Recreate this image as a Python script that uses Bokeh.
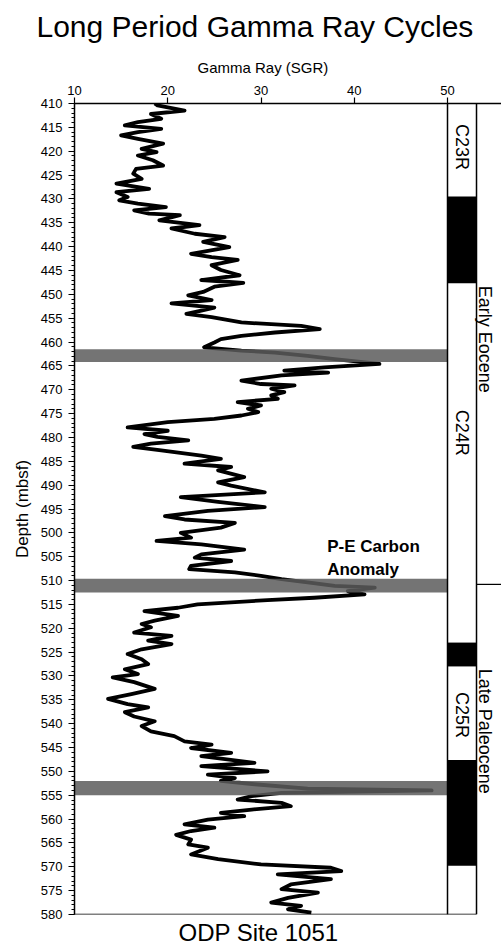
import math
from bokeh.plotting import figure
from bokeh.models import Range1d, FixedTicker, SingleIntervalTicker, Label, Title
from bokeh.core.properties import value
from bokeh.embed import file_html
from bokeh.resources import INLINE

# ---- data ----
depth = [410.0, 410.4, 411.5, 412.2, 413.2, 413.9, 414.6, 415.3, 416.0, 416.7, 417.4, 418.4,
         419.5, 420.2, 420.9, 421.9, 423.0, 423.7, 424.7, 425.8, 426.8, 427.9, 428.6, 429.6,
         430.3, 431.0, 431.7, 432.4, 433.1, 433.4, 434.5, 435.5, 436.2, 437.3, 438.0, 439.0,
         440.1, 441.5, 442.2, 442.8, 443.9, 444.9, 446.0, 447.0, 447.6, 448.4, 449.5, 450.2,
         451.2, 451.9, 452.8, 453.4, 454.1, 454.8, 455.9, 456.6, 457.3, 458.0, 458.7, 459.4,
         460.1, 461.1, 461.8, 462.2, 462.9, 463.6, 464.6, 465.3, 466.0, 466.4, 467.0, 468.1,
         468.8, 469.1, 469.8, 470.5, 471.2, 471.9, 472.6, 473.3, 474.0, 474.7, 475.4, 476.1,
         476.8, 477.9, 478.6, 479.3, 479.9, 480.6, 481.3, 482.0, 482.7, 483.8, 484.5, 485.5,
         486.2, 486.9, 488.3, 489.4, 490.1, 491.5, 492.5, 493.5, 494.6, 495.4, 496.5, 497.2,
         497.9, 498.9, 500.0, 501.0, 501.7, 502.4, 503.5, 504.5, 505.2, 505.9, 506.9, 507.6,
         508.3, 509.0, 509.7, 510.4, 511.1, 511.5, 512.2, 512.9, 513.6, 514.1, 515.0, 515.7,
         516.4, 517.4, 518.4, 519.1, 519.8, 520.9, 521.6, 522.6, 523.3, 524.4, 525.4, 526.5,
         527.5, 528.6, 529.6, 530.3, 531.3, 532.7, 533.8, 534.8, 535.9, 536.6, 537.6, 538.5,
         539.5, 540.5, 541.6, 542.6, 543.7, 544.4, 545.1, 546.1, 546.8, 548.2, 548.9, 550.0,
         550.7, 551.4, 552.0, 552.7, 553.6, 554.0, 554.5, 555.2, 555.9, 556.6, 557.3, 558.0,
         558.7, 559.4, 560.1, 561.1, 561.8, 562.5, 563.3, 564.3, 565.3, 566.0, 567.4, 568.4,
         569.5, 570.2, 570.9, 571.6, 572.6, 573.7, 574.7, 575.4, 576.5, 577.5, 578.2, 578.9,
         579.6]
gamma = [18.6, 18.9, 21.8, 18.2, 19.3, 16.8, 15.4, 19.3, 16.8, 15.0, 16.8, 19.5,
         17.2, 18.8, 16.8, 18.4, 19.5, 16.6, 16.3, 17.2, 14.5, 18.0, 14.5, 15.7,
         14.8, 16.8, 19.8, 16.4, 18.0, 21.3, 19.1, 23.4, 20.4, 22.9, 26.1, 23.8,
         26.6, 22.5, 24.7, 27.5, 24.7, 25.7, 27.7, 23.6, 28.1, 25.0, 23.8, 22.2,
         24.7, 20.4, 25.0, 23.6, 22.0, 24.7, 27.9, 34.3, 36.3, 31.5, 27.9, 25.7,
         25.0, 23.9, 27.9, 31.5, 35.0, 37.9, 42.7, 36.8, 32.5, 37.2, 32.2, 27.9,
         30.0, 33.6, 31.1, 32.5, 31.1, 31.8, 27.5, 30.0, 28.6, 29.7, 27.9, 25.0,
         20.0, 15.7, 20.0, 17.5, 18.9, 22.2, 18.2, 16.3, 19.3, 23.6, 25.7, 21.8,
         26.8, 25.4, 28.2, 25.4, 26.8, 30.4, 21.4, 25.4, 30.4, 24.3, 19.7, 21.8,
         27.2, 25.7, 21.4, 22.5, 18.8, 23.6, 28.2, 23.6, 22.9, 26.8, 22.5, 22.3,
         27.2, 30.0, 32.2, 35.0, 37.9, 42.2, 39.3, 41.1, 35.7, 30.7, 23.2, 21.1,
         17.5, 21.1, 18.6, 17.2, 18.2, 16.4, 20.4, 17.9, 20.4, 17.2, 15.7, 17.2,
         17.9, 15.4, 16.8, 14.1, 16.4, 18.6, 16.1, 13.6, 15.7, 17.9, 15.4, 16.4,
         18.6, 17.2, 18.2, 20.7, 21.8, 24.7, 22.5, 26.8, 23.6, 29.3, 23.6, 30.7,
         24.3, 27.2, 25.7, 29.3, 35.0, 48.3, 32.2, 29.0, 27.5, 32.2, 33.2, 29.0,
         25.7, 28.2, 24.3, 21.8, 25.0, 22.5, 20.9, 22.5, 22.2, 24.3, 22.5, 25.4,
         30.0, 37.5, 38.6, 31.8, 37.5, 33.2, 32.2, 36.1, 32.9, 31.1, 34.3, 32.9,
         35.4]

x_ticks = [10, 20, 30, 40, 50]
band_top = [461.5, 509.6, 552.0]
band_bottom = [464.2, 512.5, 555.0]

chron_black_top = [429.5, 523.0, 547.6]
chron_black_bottom = [447.7, 528.0, 569.8]
chron_names = ["C23R", "C24R", "C25R"]
chron_label_depth = [419.1, 479.0, 538.2]
epoch_names = ["Early Eocene", "Late Paleocene"]
epoch_label_depth = [459.4, 541.6]
epoch_boundary = 510.8

# column geometry (x in gamma-ray units)
COL_L, COL_R, X_RIGHT = 50.0, 53.11, 55.79
EPOCH_X = 54.07
Y_TOP, Y_BOT = 410, 580

FONT = "Liberation Sans"

p = figure(width=501, height=948, x_range=Range1d(10, X_RIGHT), y_range=Range1d(Y_BOT, Y_TOP),
           output_backend="svg", toolbar_location=None, x_axis_location="above",
           min_border_left=74, min_border_right=0, min_border_top=103, min_border_bottom=32)
p.outline_line_color = None
p.grid.visible = False
p.background_fill_color = "white"
p.border_fill_color = "white"

xa = p.xaxis[0]
xa.ticker = FixedTicker(ticks=x_ticks)
xa.major_tick_out = 6
xa.major_tick_in = 0
xa.minor_tick_out = 0
xa.minor_tick_in = 0
xa.major_label_text_font = FONT
xa.major_label_text_font_size = "13px"
xa.major_label_text_color = "black"
xa.major_label_standoff = 3
xa.axis_line_color = "black"
xa.axis_line_width = 1.5
xa.major_tick_line_width = 1.2

ya = p.yaxis[0]
ya.ticker = SingleIntervalTicker(interval=5, num_minor_ticks=5)
ya.major_tick_out = 6
ya.major_tick_in = 0
ya.minor_tick_out = 3
ya.minor_tick_in = 0
ya.major_label_text_font = FONT
ya.major_label_text_font_size = "13px"
ya.major_label_text_color = "black"
ya.major_label_standoff = 6
ya.axis_line_color = "black"
ya.axis_line_width = 1.5
ya.major_tick_line_width = 1.2
ya.axis_label = "Depth (mbsf)"
ya.axis_label_text_font = FONT
ya.axis_label_text_font_size = "17px"
ya.axis_label_text_font_style = "normal"
ya.axis_label_text_color = "black"
ya.axis_label_standoff = 6

# gamma-ray curve
p.line(gamma, depth, line_color="black", line_width=3.8, line_join="round")

# gray bands
p.quad(left=[10] * len(band_top), right=[COL_L] * len(band_top), top=band_top, bottom=band_bottom,
       fill_color="#5c5c5c", fill_alpha=0.85, line_color=None)

# magnetostratigraphy column
p.quad(left=[COL_L] * 3, right=[COL_R] * 3, top=chron_black_top, bottom=chron_black_bottom,
       fill_color="black", line_color=None)
p.segment(x0=[COL_L, COL_R], y0=[Y_TOP, Y_TOP], x1=[COL_L, COL_R], y1=[Y_BOT, Y_BOT],
          line_color="black", line_width=1.5)
p.segment(x0=[10], y0=[Y_BOT], x1=[COL_R], y1=[Y_BOT], line_color="black", line_width=1.5)
p.segment(x0=[COL_R], y0=[epoch_boundary], x1=[X_RIGHT], y1=[epoch_boundary],
          line_color="black", line_width=1.2)

p.text(x=[(COL_L + COL_R) / 2] * 3, y=chron_label_depth, text=chron_names, angle=-math.pi / 2,
       text_font=value(FONT), text_font_size="18px", text_align="center",
       text_baseline="middle", text_color="black")
p.text(x=[EPOCH_X] * 2, y=epoch_label_depth, text=epoch_names, angle=-math.pi / 2,
       text_font=value(FONT), text_font_size="18px", text_align="center",
       text_baseline="middle", text_color="black")

p.add_layout(Label(x=37.1, y=500.9, text="P-E Carbon\nAnomaly", text_font=FONT,
                   text_font_size="17px", text_font_style="bold", text_align="left",
                   text_baseline="top", text_color="black"))

# texts outside the frame
p.add_layout(Title(text="Gamma Ray (SGR)", text_font=FONT, text_font_size="15px",
                   text_font_style="normal", text_color="black", align="left",
                   offset=123, standoff=14), "above")
p.title.text = "Long Period Gamma Ray Cycles"
p.title.text_font = FONT
p.title.text_font_size = "30px"
p.title.text_font_style = "normal"
p.title.text_color = "black"
p.title.align = "left"
p.title.offset = -38
p.title.standoff = 13
p.add_layout(Title(text="ODP Site 1051", text_font=FONT, text_font_size="24px",
                   text_font_style="normal", text_color="black", align="left",
                   offset=104, standoff=5), "below")

open("out.html", "w").write(file_html(p, INLINE))
